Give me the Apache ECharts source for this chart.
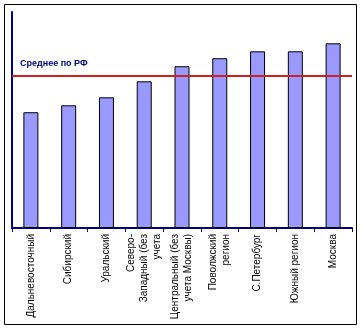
<!DOCTYPE html>
<html>
<head>
<meta charset="utf-8">
<script src="https://cdn.jsdelivr.net/npm/echarts@6/dist/echarts.min.js"></script>
<style>
  html, body { margin: 0; padding: 0; background: #fff; }
  #chart { width: 362px; height: 328px; }
</style>
</head>
<body>
<div id="chart"></div>
<script>
// Regions, ordered by index value
const regions = [
  'Дальневосточный',
  'Сибирский',
  'Уральский',
  'Северо-\nЗападный (без\nучета',
  'Центральный (без\nучета Москвы)',
  'Поволжский\nрегион',
  'С.Петербург',
  'Южный регион',
  'Москва'
];
const values = [53.6, 56.8, 60.5, 67.9, 74.9, 78.6, 81.8, 81.8, 85.5];
// National average reference level
const averageLabel = 'Среднее по РФ';
const averageValue = 70.4;

const chart = echarts.init(document.getElementById('chart'), null, { renderer: 'canvas' });
chart.setOption({
  animation: false,
  backgroundColor: '#fff',
  grid: { left: 12, right: 10, top: 12, bottom: 100, containLabel: false },
  graphic: [{
    type: 'rect',
    shape: { x: 4.5, y: 4.5, width: 352, height: 320 },
    style: { fill: 'none', stroke: '#000', lineWidth: 1 },
    silent: true
  }],
  xAxis: {
    type: 'category',
    data: regions,
    axisLine: { lineStyle: { color: '#000080', width: 2 } },
    axisTick: { show: true, length: 4, lineStyle: { color: '#000080', width: 1 } },
    axisLabel: {
      interval: 0,
      rotate: 90,
      margin: 6,
      color: '#000',
      fontFamily: 'Liberation Sans, Arial, sans-serif',
      fontSize: 10,
      lineHeight: 13
    }
  },
  yAxis: {
    type: 'value',
    min: 0,
    max: 100,
    axisLine: { show: true, lineStyle: { color: '#000080', width: 2 } },
    axisTick: { show: false },
    axisLabel: { show: false },
    splitLine: { show: false }
  },
  series: [{
    type: 'bar',
    data: values,
    barWidth: 15,
    itemStyle: { color: '#9999ff', borderColor: '#000', borderWidth: 1 },
    markLine: {
      silent: true,
      symbol: 'none',
      data: [{ yAxis: averageValue }],
      lineStyle: { color: '#cc2222', width: 2, type: 'solid' },
      label: {
        show: true,
        position: 'insideStartTop',
        formatter: averageLabel,
        color: '#000080',
        fontWeight: 'bold',
        fontFamily: 'Liberation Sans Narrow, Arial Narrow, Liberation Sans, sans-serif',
        fontSize: 9,
        distance: [8, 8]
      }
    }
  }]
});
</script>
</body>
</html>
